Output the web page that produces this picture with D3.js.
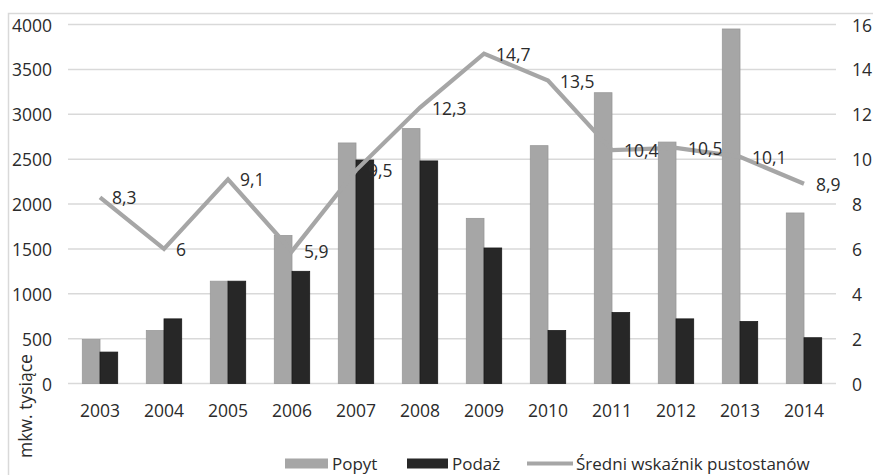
<!DOCTYPE html>
<html><head><meta charset="utf-8">
<script src="https://cdn.jsdelivr.net/npm/d3@7"></script>
<style>body{margin:0;background:#fff}svg{display:block}text{font-family:"Open Sans",sans-serif;fill:#2b2b2b}</style>
</head><body>
<svg id="c" width="873" height="475"></svg>
<script>
const years = ["2003","2004","2005","2006","2007","2008","2009","2010","2011","2012","2013","2014"];
const popyt = [490,590,1140,1650,2680,2840,1840,2650,3240,2690,3950,1900];
const podaz = [350,720,1140,1250,2490,2480,1510,590,790,720,690,510];
const wskaznik = [8.3,6,9.1,5.9,9.5,12.3,14.7,13.5,10.4,10.5,10.1,8.9];
const leftTicks = [0,500,1000,1500,2000,2500,3000,3500,4000];
const rightTicks = [0,2,4,6,8,10,12,14,16];
const seriesNames = ["Popyt","Podaż","Średni wskaźnik pustostanów"];
const yTitle = "mkw. tysiące";

const svg = d3.select("#c");
const fs = 17.5;
const x = d3.scaleBand().domain(years).range([68,836]).paddingInner(0.447).paddingOuter(0.2235);
const xs = d3.scaleBand().domain(["Popyt","Podaż"]).range([0,x.bandwidth()]);
const yL = d3.scaleLinear().domain([0,4000]).range([383.5,24.5]);
const yR = d3.scaleLinear().domain([0,16]).range([383.5,24.5]);

// frame
svg.append("path").attr("d","M8.5,475 V13.5 H873").attr("fill","none").attr("stroke","#d9d9d9").attr("stroke-width",1.5);

// gridlines
svg.append("g").selectAll("line").data(leftTicks).join("line")
  .attr("x1",68).attr("x2",836).attr("y1",d=>yL(d)).attr("y2",d=>yL(d))
  .attr("stroke","#d9d9d9").attr("stroke-width",1.5);

// left ticks
svg.append("g").selectAll("text").data(leftTicks).join("text")
  .attr("x",52).attr("y",d=>yL(d)).attr("text-anchor","end").attr("dominant-baseline","central")
  .style("font-size",fs+"px").text(d=>d);
// right ticks
svg.append("g").selectAll("text").data(rightTicks).join("text")
  .attr("x",852).attr("y",d=>yR(d)).attr("text-anchor","start").attr("dominant-baseline","central")
  .style("font-size",fs+"px").text(d=>d);
// x labels
svg.append("g").selectAll("text").data(years).join("text")
  .attr("x",d=>x(d)+x.bandwidth()/2).attr("y",410).attr("text-anchor","middle").attr("dominant-baseline","central")
  .style("font-size",fs+"px").text(d=>d);

// bars
const g = svg.append("g");
g.selectAll("rect.p").data(years).join("rect").attr("class","p")
  .attr("x",d=>x(d)+xs("Popyt")).attr("width",xs.bandwidth())
  .attr("y",(d,i)=>yL(popyt[i])).attr("height",(d,i)=>yL(0)-yL(popyt[i]))
  .attr("fill","#a6a6a6").attr("stroke","#999").attr("stroke-width",0.8);
g.selectAll("rect.d").data(years).join("rect").attr("class","d")
  .attr("x",d=>x(d)+xs("Podaż")).attr("width",xs.bandwidth())
  .attr("y",(d,i)=>yL(podaz[i])).attr("height",(d,i)=>yL(0)-yL(podaz[i]))
  .attr("fill","#272727").attr("stroke","#1a1a1a").attr("stroke-width",0.8);

// line
const line = d3.line().x((d,i)=>x(years[i])+x.bandwidth()/2).y(d=>yR(d));
svg.append("path").datum(wskaznik).attr("d",line).attr("fill","none")
  .attr("stroke","#a6a6a6").attr("stroke-width",4.2).attr("stroke-linejoin","miter");

// labels
svg.append("g").selectAll("text").data(wskaznik).join("text")
  .attr("x",(d,i)=>x(years[i])+x.bandwidth()/2+12).attr("y",d=>yR(d))
  .attr("dominant-baseline","central").style("font-size",fs+"px")
  .text(d=>String(d).replace(".",","));

// y title
svg.append("text").attr("transform","translate(25,406) rotate(-90)").attr("text-anchor","middle")
  .attr("dominant-baseline","central").style("font-size",fs+"px").text(yTitle);

// legend
const ly = 463.5;
const lfs = 17;
svg.append("rect").attr("x",285).attr("y",ly-5).attr("width",43).attr("height",10).attr("fill","#a6a6a6");
svg.append("text").attr("x",332).attr("y",ly).attr("dominant-baseline","central").style("font-size",lfs+"px").text(seriesNames[0]);
svg.append("rect").attr("x",407).attr("y",ly-5).attr("width",41).attr("height",10).attr("fill","#272727");
svg.append("text").attr("x",452).attr("y",ly).attr("dominant-baseline","central").style("font-size",lfs+"px").text(seriesNames[1]);
svg.append("line").attr("x1",527).attr("x2",573).attr("y1",ly).attr("y2",ly).attr("stroke","#a6a6a6").attr("stroke-width",4);
svg.append("text").attr("x",576).attr("y",ly).attr("dominant-baseline","central").style("font-size",lfs+"px").text(seriesNames[2]);
</script>
</body></html>
